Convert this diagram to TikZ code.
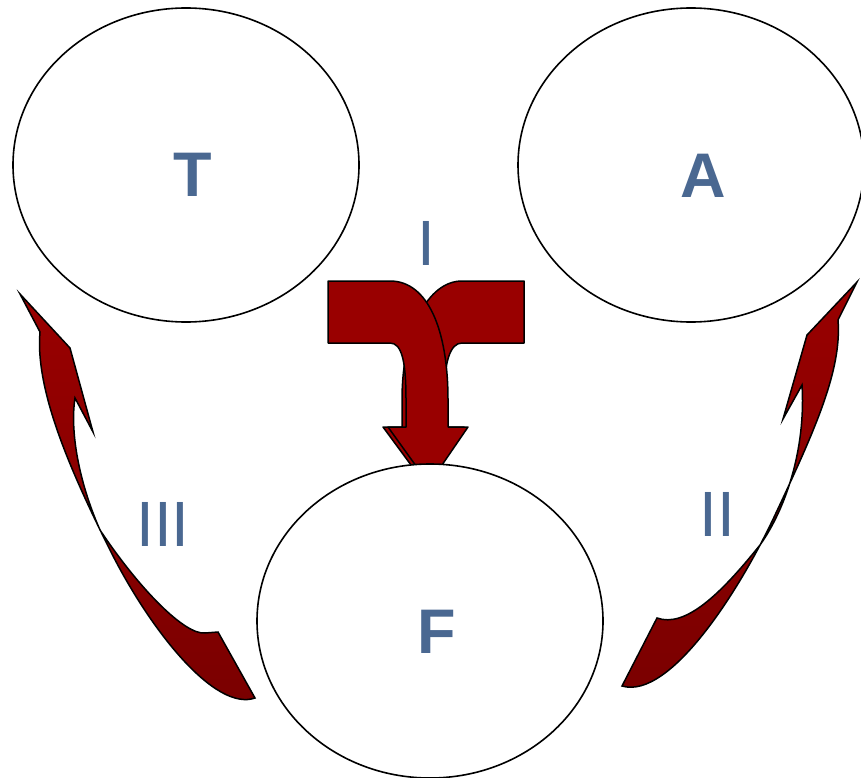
\documentclass[tikz,border=0pt]{standalone}
\usepackage{fontspec}
\setmainfont{Liberation Sans}
\usetikzlibrary{shapes.geometric}
\definecolor{arrred}{HTML}{990000}
\definecolor{arrdark}{HTML}{7A0000}
\definecolor{lblblue}{HTML}{4A6891}
\tikzset{
  circ/.style={ellipse, draw=black, line width=1.6pt, fill=white, minimum width=346pt, minimum height=314pt, inner sep=0pt},
  bigletter/.style={text=lblblue, font=\fontsize{63}{63}\selectfont\bfseries, inner sep=0pt},
  numeral/.style={text=lblblue, font=\fontsize{64}{64}\selectfont, inner sep=0pt},
  redarrow/.style={draw=black, line width=1.5pt, line join=round, fill=arrred},
  curvearrow/.style={draw=black, line width=1.5pt, line join=miter, top color=arrred, bottom color=arrdark}
}
\begin{document}
\begin{tikzpicture}[x=1pt, y=-1pt]
\useasboundingbox (0,0) rectangle (861,778);
% arrow I: back part (from the right)
\path[redarrow] (524,281) -- (462,281) .. controls (428,281) and (402,330) .. (402,400) -- (402,427) -- (383,427) -- (425,484) -- (464,427) -- (444,427) -- (444,400) .. controls (444,362) and (450,343) .. (462,343) -- (524,343) -- cycle;
% arrow I: front part (from the left)
\path[redarrow] (328,281) -- (390,281) .. controls (428,281) and (448,330) .. (448,400) -- (448,427) -- (468,427) -- (429,484) -- (388,427) -- (406,427) -- (406,400) .. controls (406,362) and (402,343) .. (390,343) -- (328,343) -- cycle;
% arrow III
\path[curvearrow] (20,294) -- (70,348) -- (93,432) -- (75,398) .. controls (70,430) and (78,480) .. (100,530) .. controls (140,590) and (185,635) .. (205,633) -- (218,632) -- (255,698) .. controls (215,712) and (150,630) .. (110,550) .. controls (70,470) and (35,390) .. (40,332) -- cycle;
% arrow II
\path[curvearrow] (857,282) -- (807,335) -- (783,419) -- (802,385) .. controls (806,450) and (785,510) .. (760,545) .. controls (720,595) and (685,628) .. (657,618) -- (622,686) .. controls (670,700) and (740,590) .. (775,515) .. controls (815,430) and (842,370) .. (838,320) -- cycle;
% ellipses
\node[circ] (T) at (186,165) {};
\node[circ] (A) at (691,165) {};
\node[circ] (F) at (430,621) {};
% labels
\node[bigletter] (Tl) at (193,174.5) {T};
\node[bigletter] (Al) at (703,175.5) {A};
\node[bigletter] (Fl) at (437,631.5) {F};
\node[numeral] (I) at (426.5,243) {I};
\node[numeral] (II) at (717.5,514.5) {II};
\node[numeral] (III) at (163,524) {III};
\end{tikzpicture}
\end{document}
